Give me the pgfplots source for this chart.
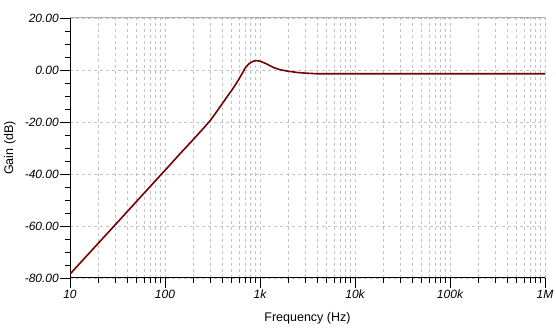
\documentclass[border=0pt]{standalone}
\usepackage{fontspec}
\setmainfont{Liberation Sans}
\usepackage{pgfplots}
\pgfplotsset{compat=1.18}
\definecolor{curve}{RGB}{120,0,0}
\definecolor{gridc}{RGB}{195,195,195}
\definecolor{framec}{RGB}{175,175,175}
\begin{document}
\begin{tikzpicture}
\path[use as bounding box] (-70pt,-58pt) rectangle (486pt,278pt);
\begin{axis}[
  at={(0,0)}, anchor=south west,
  scale only axis, width=475pt, height=260pt,
  xmode=log, xmin=10, xmax=1e6, ymin=-80, ymax=20,
  axis lines*=left,
  axis line style={black, line width=1pt, -},
  xtick={10,100,1000,10000,100000,1000000},
  xticklabels={10,100,1k,10k,100k,1M},
  ytick={-80,-60,-40,-20,0,20},
  yticklabels={-80.00,-60.00,-40.00,-20.00,0.00,20.00},
  minor y tick num=3,
  tick align=outside,
  major tick length=10pt, minor tick length=5pt,
  every tick/.style={black, line width=0.8pt},
  xmajorgrids, xminorgrids, ymajorgrids,
  major grid style={gridc, dash pattern=on 3pt off 3pt, line width=0.8pt},
  minor grid style={gridc, dash pattern=on 3pt off 3pt, line width=0.8pt},
  tick label style={font=\fontsize{12}{14}\selectfont\itshape},
  yticklabel style={inner sep=1pt},
  xticklabel style={inner sep=2pt},
  every axis x label/.style={at={(axis description cs:0.5,0)}, yshift=-40pt, anchor=center, font=\fontsize{12.5}{14}\selectfont},
  every axis y label/.style={at={(axis description cs:0,0.5)}, xshift=-60pt, rotate=90, anchor=center, font=\fontsize{12.5}{14}\selectfont},
  xlabel={Frequency (Hz)}, ylabel={Gain (dB)},
]
\addplot[curve, line width=1.6pt, line join=round] coordinates {
 (10,-78.5) (20,-66.5) (30,-59.5) (50,-50.6) (100,-38.6) (144,-32.2)
 (200,-26.6) (250,-22.7) (300,-19.4) (350,-16.0) (400,-13.0) (450,-10.3)
 (500,-8.0) (550,-5.7) (600,-3.5) (650,-1.3) (700,0.8) (750,2.1)
 (800,2.9) (870,3.5) (923,3.6) (1000,3.4) (1100,2.8) (1222,2.0)
 (1400,0.9) (1622,0.1) (2000,-0.5) (2529,-1.0) (3000,-1.2) (4000,-1.45)
 (10000,-1.45) (1000000,-1.45)
};
\draw[framec, line width=1pt] (rel axis cs:0,1) -- (rel axis cs:1,1) -- (rel axis cs:1,0);
\end{axis}
\end{tikzpicture}
\end{document}
